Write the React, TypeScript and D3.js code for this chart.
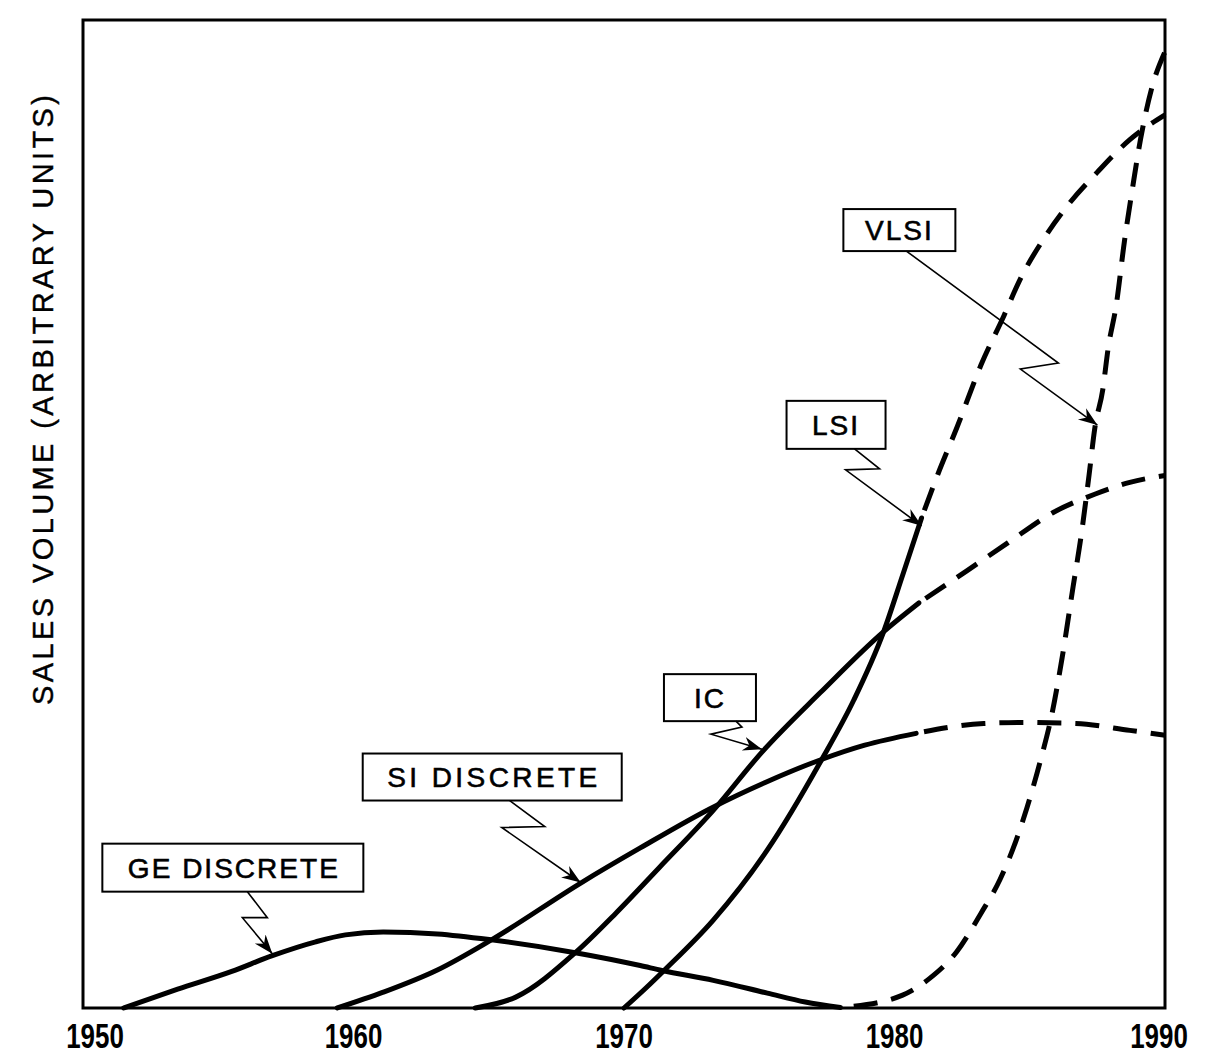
import React from "react";
import * as d3 from "d3";

// ---------- data (year, sales volume in arbitrary units 0..100) ----------
const xTicks = [1950, 1960, 1970, 1980, 1990];

const geSolid: [number, number][] = [
  [1951.5, 0], [1953.5, 1.9], [1955.5, 3.7], [1957.0, 5.3], [1958.6, 6.7],
  [1959.7, 7.4], [1961.1, 7.7], [1963.1, 7.5], [1965.1, 6.9], [1968.2, 5.6],
  [1970.6, 4.3], [1971.4, 3.8], [1973.3, 2.8], [1975.3, 1.5], [1976.7, 0.6],
  [1978.0, 0.05],
];

const siSolid: [number, number][] = [
  [1959.4, 0], [1961.1, 1.6], [1963.1, 3.85], [1965.1, 6.9], [1968.4, 12.65],
  [1970.6, 16.2], [1973.2, 20.2], [1975.2, 22.8], [1977.25, 25.1], [1978.9, 26.6],
  [1980.8, 27.8],
];
const siDashed: [number, number][] = [
  [1980.8, 27.8], [1983.3, 28.8], [1984.8, 28.9], [1986.7, 28.8], [1988.7, 28.1], [1990, 27.6],
];

const icSolid: [number, number][] = [
  [1964.5, 0], [1966.0, 1.1], [1968.2, 5.6], [1969.7, 9.6], [1971.3, 14.2],
  [1973.3, 20.0], [1975.1, 25.9], [1977.25, 31.9], [1979.6, 38.1], [1980.9, 41.0],
];
const icDashed: [number, number][] = [
  [1980.9, 41.0], [1982.7, 44.3], [1984.2, 47.1], [1985.9, 50.2], [1987.4, 52.0],
  [1988.7, 53.2], [1990, 53.9],
];

const lsiSolid: [number, number][] = [
  [1970.0, 0], [1970.8, 2.0], [1971.5, 3.85], [1973.3, 8.9], [1975.3, 16.0],
  [1977.3, 25.1], [1978.5, 31.2], [1979.6, 38.1], [1980.3, 43.8], [1981.0, 49.6],
];
const lsiDashed: [number, number][] = [
  [1981.0, 49.6], [1981.6, 54.0], [1982.3, 58.7], [1983.2, 65.1], [1984.05, 70.1],
  [1984.6, 73.5], [1985.6, 78.2], [1986.45, 81.4], [1987.5, 84.6], [1988.7, 87.9],
  [1990, 90.4],
];

const vlsiDashed: [number, number][] = [
  [1978.2, 0.1], [1980.3, 1.3], [1981.3, 3.0], [1982.3, 5.7], [1983.2, 9.6],
  [1983.9, 13.0], [1984.5, 17.0], [1984.9, 20.3], [1985.4, 25.1], [1985.8, 29.5],
  [1986.2, 35.5], [1986.6, 42.6], [1986.9, 47.8], [1987.2, 54.1], [1987.4, 58.6],
  [1987.7, 62.6], [1987.9, 66.8], [1988.2, 71.2], [1988.5, 77.6], [1988.8, 83.0],
  [1989.1, 88.0], [1989.5, 93.0], [1990, 96.8],
];

const seriesLabels = ["GE DISCRETE", "SI DISCRETE", "IC", "LSI", "VLSI"];
// arrow tips in data coordinates (year, value)
const tipYears = [1957.0, 1968.4, 1975.1, 1981.0, 1987.5];
const tipValues = [5.5, 12.7, 26.2, 48.8, 59.0];

const yTitle = "SALES VOLUME (ARBITRARY UNITS)";

// ---------- layout (pixel offsets from arrow tip) ----------
const boxes: [number, number, number, number][] = [
  [-170, -110, 91, -62],
  [-218, -129, 41, -82],
  [-98, -75, -6, -28],
  [-135, -125, -36, -77],
  [-254, -216, -142, -174],
];
const leaders: [number, number][][] = [
  [[-25, -62], [-5, -36], [-30, -36], [0, 0]],
  [[-71, -82], [-36, -56], [-79, -55], [0, 0]],
  [[-26, -28], [-20, -22], [-51, -15], [0, 0]],
  [[-67, -77], [-42, -57], [-76, -56], [0, 0]],
  [[-191, -174], [-39, -62], [-77, -56], [0, 0]],
];

const W = 1210;
const H = 1056;
const left = 83, right = 1165, top = 20, bottom = 1008;

export default function App() {
  const x = d3.scaleLinear().domain([1950, 1990]).range([left, right]);
  const y = d3.scaleLinear().domain([0, 100]).range([bottom, top]);
  const line = d3
    .line<[number, number]>()
    .x((d) => x(d[0]))
    .y((d) => y(d[1]))
    .curve(d3.curveMonotoneX);

  const solids = [geSolid, siSolid, icSolid, lsiSolid];
  const dashes = [siDashed, icDashed, lsiDashed, vlsiDashed];
  const font = "'Liberation Sans', Arial, Helvetica, sans-serif";
  const lastTick = xTicks.length - 1;

  return (
    <svg
      width={W}
      height={H}
      viewBox={`0 0 ${W} ${H}`}
      style={{ position: "absolute", left: 0, top: 0, background: "#fff" }}
    >
      <defs>
        <marker
          id="arr"
          viewBox="0 0 20 20"
          refX="19"
          refY="10"
          markerWidth="20"
          markerHeight="20"
          markerUnits="userSpaceOnUse"
          orient="auto"
        >
          <path d="M0,3 L19,10 L0,17 L6,10 Z" fill="#000" />
        </marker>
      </defs>
      <rect x={0} y={0} width={W} height={H} fill="#fff" />
      {/* frame */}
      <rect
        x={left}
        y={top}
        width={right - left}
        height={bottom - top}
        fill="none"
        stroke="#000"
        strokeWidth={3}
      />
      {/* curves */}
      {solids.map((s, i) => (
        <path key={"s" + i} d={line(s) || ""} fill="none" stroke="#000" strokeWidth={5} strokeLinecap="round" />
      ))}
      {dashes.map((s, i) => (
        <path
          key={"d" + i}
          d={line(s) || ""}
          fill="none"
          stroke="#000"
          strokeWidth={5}
          strokeDasharray="24 14"
          strokeDashoffset={-8}
        />
      ))}
      {/* x tick labels */}
      {xTicks.map((t, i) => (
        <text
          key={t}
          transform={`translate(${x(t) + (i === 0 ? 12 : i === lastTick ? -6 : 0)}, 1048) scale(0.72, 1)`}
          textAnchor="middle"
          fontFamily={font}
          fontWeight="bold"
          fontSize={36}
        >
          {t}
        </text>
      ))}
      {/* y title */}
      <text
        transform={`translate(53, ${400}) rotate(-90)`}
        textAnchor="middle"
        fontFamily={font}
        fontSize={29}
        stroke="#000"
        strokeWidth={0.4}
        textLength={610}
        lengthAdjust="spacing"
      >
        {yTitle}
      </text>
      {/* annotations */}
      {seriesLabels.map((lab, i) => {
        const tx = x(tipYears[i]);
        const ty = y(tipValues[i]);
        const b = boxes[i];
        const pts = leaders[i].map(([dx, dy]) => [tx + dx, ty + dy] as [number, number]);
        const bw = b[2] - b[0];
        const long = lab.length > 6;
        return (
          <g key={lab}>
            <rect
              x={tx + b[0]}
              y={ty + b[1]}
              width={bw}
              height={b[3] - b[1]}
              fill="#fff"
              stroke="#000"
              strokeWidth={2}
            />
            <text
              x={tx + (b[0] + b[2]) / 2}
              y={ty + (b[1] + b[3]) / 2 + 10}
              textAnchor="middle"
              fontFamily={font}
              fontSize={28}
              stroke="#000"
              strokeWidth={0.6}
              letterSpacing={long ? undefined : 2}
              textLength={long ? 210 : undefined}
              lengthAdjust="spacing"
            >
              {lab}
            </text>
            <path
              d={d3.line()(pts) || ""}
              fill="none"
              stroke="#000"
              strokeWidth={1.6}
              markerEnd="url(#arr)"
            />
          </g>
        );
      })}
    </svg>
  );
}
